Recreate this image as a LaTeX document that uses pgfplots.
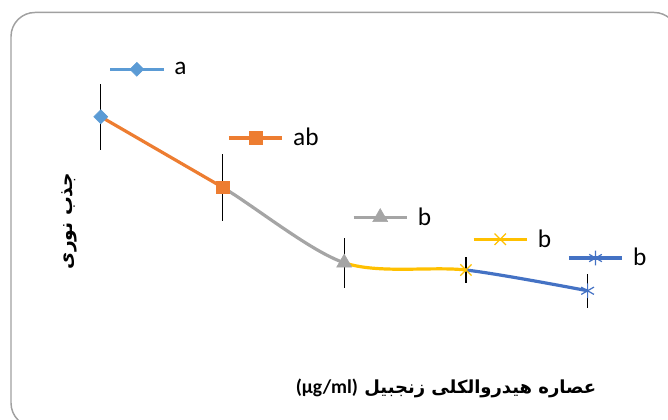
\documentclass[border=0pt]{standalone}
\usepackage{pgfplots}
\pgfplotsset{compat=1.18}
\usepackage{pgfplotstable}
\usepackage{fontspec}
\setmainfont{Carlito}
\newfontfamily\fa[Script=Arabic]{DejaVu Sans}
\TeXXeTstate=1

\definecolor{sA}{HTML}{5B9BD5}
\definecolor{sB}{HTML}{ED7D31}
\definecolor{sC}{HTML}{A5A5A5}
\definecolor{sD}{HTML}{FFC000}
\definecolor{sE}{HTML}{4472C4}
\definecolor{frame}{HTML}{A0A0A0}

% absorbance means and error
\pgfplotstableread{
x y e
1 1.209 0.133
2 0.927 0.133
3 0.625 0.100
4 0.596 0.053
5 0.513 0.068
}\pts

\newlength\ux
\setlength\ux{91.275pt}

\pgfplotsset{
  seg/.style={
    scale only axis, width=\ux, height=314.25pt,
    ymin=0, ymax=1.676, hide axis,
    anchor=south west, clip mode=individual,
    legend style={draw=none, fill=none, inner sep=0pt, anchor=west,
      font=\fontsize{19}{21}\selectfont, column sep=5pt},
    legend image code/.code={
      \draw[line width=2.4pt, mark repeat=2, mark phase=2]
        plot coordinates {(0pt,0pt) (20pt,0pt) (40pt,0pt)};},
  },
  ln/.style={line width=2.4pt},
}

\begin{document}
\begin{tikzpicture}
\useasboundingbox (0,0) rectangle (501pt,314.25pt);
\draw[frame, line width=1.1pt, rounded corners=18pt] (8.25pt,-6pt) rectangle (508.5pt,304.9pt);

\begin{axis}[at={(0,0)}, anchor=south west, scale only axis,
  width=501pt, height=314.25pt,
  xmin=0.1717, xmax=5.6606, ymin=0, ymax=1.676,
  hide axis, clip=false]
  \addplot[draw=none, mark=none, forget plot,
    error bars/.cd, y dir=both, y explicit, error mark=none,
    error bar style={line width=1pt, black}]
    table[x=x, y=y, y error=e] {\pts};
  \coordinate (s0) at (axis cs:0,0);
  \coordinate (s1) at (axis cs:1,0);
  \coordinate (s2) at (axis cs:2,0);
  \coordinate (s3) at (axis cs:3,0);
  \coordinate (s4) at (axis cs:4,0);
  \node[rotate=90, font=\fa\bfseries\fontsize{14}{16}\selectfont]
    at (axis cs:0.745,0.792) {\beginR جذب نوری\endR};
  \node[font=\fa\bfseries\fontsize{13.5}{16}\selectfont]
    at (axis cs:3.8365,0.124)
    {\beginR عصاره هیدروالکلی زنجبیل \beginL{\normalfont\bfseries\fontsize{14.7}{16}\selectfont(µg/ml)}\endL\endR};
\end{axis}

% series drawn last to first, so each marker lies over the next line
\begin{axis}[seg, xmin=4, xmax=5, at={(s4)}, legend style={at={(0.8307,0.3842)}}]
  \addplot[sE, ln, smooth, forget plot] table[x=x, y=y] {\pts};
  \addplot[sE, ln, mark=asterisk, mark size=5.5pt,
    skip coords between index={0}{4},
    mark options={line width=0.9pt}] table[x=x, y=y] {\pts};
  \addlegendentry{b}
\end{axis}
\begin{axis}[seg, xmin=3, xmax=4, at={(s3)}, legend style={at={(1.0476,0.4289)}}]
  \addplot[sD, ln, smooth, forget plot] table[x=x, y=y] {\pts};
  \addplot[sD, ln, mark=x, mark size=6pt,
    skip coords between index={0}{3}, skip coords between index={4}{5},
    mark options={line width=0.9pt}] table[x=x, y=y] {\pts};
  \addlegendentry{b}
\end{axis}
\begin{axis}[seg, xmin=2, xmax=3, at={(s2)}, legend style={at={(1.0616,0.4814)}}]
  \addplot[sC, ln, smooth, forget plot] table[x=x, y=y] {\pts};
  \addplot[sC, ln, mark=triangle*, mark size=6.5pt,
    skip coords between index={0}{2}, skip coords between index={3}{5},
    mark options={line width=0.4pt}] table[x=x, y=y] {\pts};
  \addlegendentry{b}
\end{axis}
\begin{axis}[seg, xmin=1, xmax=2, at={(s1)}, legend style={at={(1.037,0.6706)}}]
  \addplot[sB, ln, forget plot] table[x=x, y=y] {\pts};
  \addplot[sB, ln, mark=square*, mark size=4.8pt,
    skip coords between index={0}{1}, skip coords between index={2}{5},
    mark options={line width=0.4pt}] table[x=x, y=y] {\pts};
  \addlegendentry{ab}
\end{axis}
\begin{axis}[seg, xmin=0, xmax=1, at={(s0)}, legend style={at={(1.0616,0.8346)}}]
  \addplot[sA, ln, mark=square*, mark size=3.7pt,
    skip coords between index={1}{5},
    mark options={rotate=45, line width=0.4pt}] table[x=x, y=y] {\pts};
  \addlegendentry{a}
\end{axis}
\end{tikzpicture}
\end{document}
